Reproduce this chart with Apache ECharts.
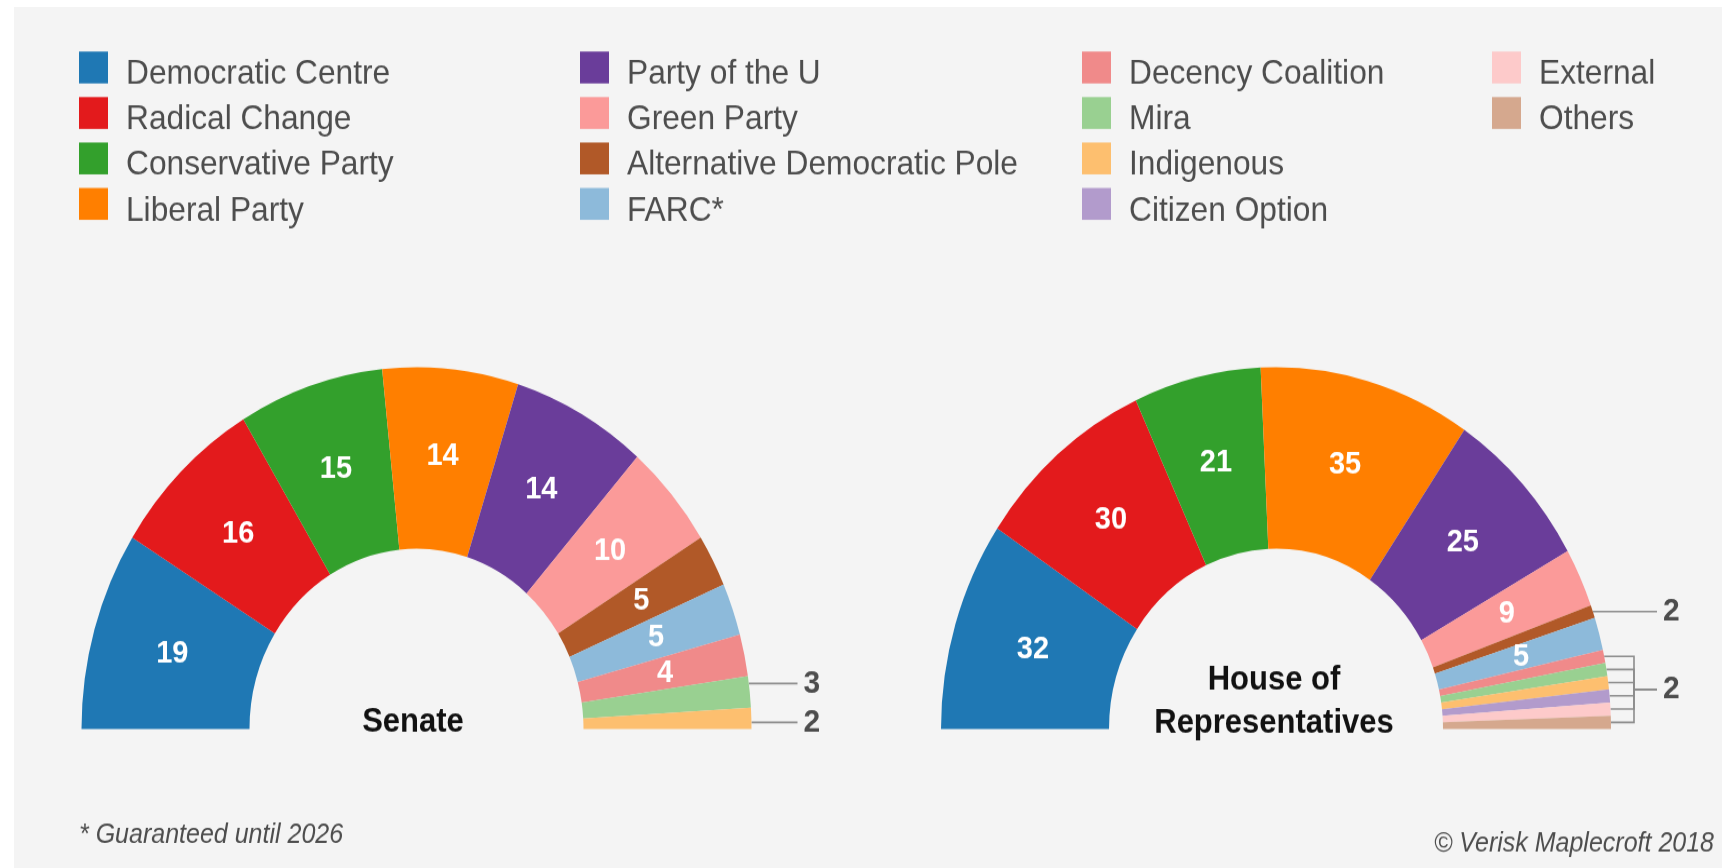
<!DOCTYPE html>
<html>
<head>
<meta charset="utf-8">
<script src="https://cdn.jsdelivr.net/npm/echarts@6/dist/echarts.min.js"></script>
<style>
  html, body { margin: 0; padding: 0; background: #fff; width: 1722px; height: 868px; overflow: hidden; }
  /* the original picture is stretched a little vertically, so the chart is too */
  #chart { position: absolute; left: 14px; top: 7px; width: 1708px; height: 797px; transform: scaleY(1.08); transform-origin: 0 0; }
</style>
</head>
<body>
<div id="chart"></div>
<script>
const parties = ['Democratic Centre', 'Radical Change', 'Conservative Party', 'Liberal Party',
  'Party of the U', 'Green Party', 'Alternative Democratic Pole', 'FARC*',
  'Decency Coalition', 'Mira', 'Indigenous', 'Citizen Option', 'External', 'Others'];
const partyColors = ['#1f78b4', '#e31a1c', '#33a02c', '#ff7f00',
  '#6a3d9a', '#fb9a99', '#b15928', '#8dbada',
  '#f08a8a', '#99d091', '#fdbf6f', '#b29bcc', '#fdcaca', '#d5a88e'];

const senateParties = ['Democratic Centre', 'Radical Change', 'Conservative Party', 'Liberal Party',
  'Party of the U', 'Green Party', 'Alternative Democratic Pole', 'FARC*', 'Decency Coalition', 'Mira', 'Indigenous'];
const senateSeats = [19, 16, 15, 14, 14, 10, 5, 5, 4, 3, 2];

const houseParties = ['Democratic Centre', 'Radical Change', 'Conservative Party', 'Liberal Party',
  'Party of the U', 'Green Party', 'Alternative Democratic Pole', 'FARC*', 'Decency Coalition', 'Mira',
  'Indigenous', 'Citizen Option', 'External', 'Others'];
const houseSeats = [32, 30, 21, 35, 25, 9, 2, 5, 2, 2, 2, 2, 2, 2];

// slices labelled outside the ring
const senateOutside = ['Mira', 'Indigenous'];
const houseOutside = ['Alternative Democratic Pole'];
const houseBracket = ['Decency Coalition', 'Mira', 'Indigenous', 'Citizen Option', 'External', 'Others'];

const legendColumns = [
  ['Democratic Centre', 'Radical Change', 'Conservative Party', 'Liberal Party'],
  ['Party of the U', 'Green Party', 'Alternative Democratic Pole', 'FARC*'],
  ['Decency Coalition', 'Mira', 'Indigenous', 'Citizen Option'],
  ['External', 'Others']
];

const FONT = 'Liberation Sans, Arial, Helvetica, sans-serif';
const GREY = '#4d4d4d';
const R_IN = 167, R_OUT = 335;
const SENATE_CENTER = [402.5, 668.5];
const HOUSE_CENTER = [1262, 668.5];
const legendLeft = [65, 566, 1068, 1478];
const legendTop = 33.5, legendRow = 42.1;

// point on the outer arc at the middle of slice i
function edgePoint(values, i, center) {
  const total = values.reduce((a, b) => a + b, 0);
  let before = 0;
  for (let k = 0; k < i; k++) before += values[k];
  const a = Math.PI * (1 - (before + values[i] / 2) / total);
  return [center[0] + R_OUT * Math.cos(a), center[1] - R_OUT * Math.sin(a)];
}

// keep outside labels from sitting on each other
function spread(ys, gap) {
  const out = ys.slice();
  for (let i = 1; i < out.length; i++) {
    if (out[i] - out[i - 1] < gap) out[i] = out[i - 1] + gap;
  }
  const shift = ys.reduce((a, b) => a + b, 0) / ys.length - out.reduce((a, b) => a + b, 0) / out.length;
  return out.map(y => y + shift - 2);
}

function makeLayout(names, values, center, outside, bracket) {
  const lineEnd = center[0] + R_OUT + 46;
  const labelX = center[0] + R_OUT + 52;
  const bracketX = center[0] + R_OUT + 23;

  const outIdx = outside.map(n => names.indexOf(n));
  const outYs = outIdx.length > 1
    ? spread(outIdx.map(i => edgePoint(values, i, center)[1]), 36)
    : outIdx.map(i => edgePoint(values, i, center)[1]);

  const brPts = bracket.map(n => edgePoint(values, names.indexOf(n), center));
  const brMid = brPts.reduce((a, p) => a + p[1], 0) / (brPts.length || 1);

  return function (p) {
    const name = names[p.dataIndex];
    const o = outside.indexOf(name);
    if (o >= 0) {
      const y = outYs[o];
      const dy = center[1] - y;
      const ex = center[0] + Math.sqrt(R_OUT * R_OUT - dy * dy);
      return {
        x: labelX, y: y, align: 'left', verticalAlign: 'middle',
        labelLinePoints: [[ex, y], [lineEnd, y]]
      };
    }
    const b = bracket.indexOf(name);
    if (b >= 0) {
      const pt = brPts[b];
      return {
        x: labelX, y: brMid, align: 'left', verticalAlign: 'middle',
        labelLinePoints: [pt, [bracketX, pt[1]], [bracketX, brMid], [lineEnd, brMid]]
      };
    }
    return {};
  };
}

function buildData(names, values, outside) {
  return names.map((n, i) => {
    const out = outside.includes(n);
    return {
      name: n,
      value: values[i],
      itemStyle: { color: partyColors[parties.indexOf(n)] },
      label: out ? { position: 'outside', color: GREY, fontSize: 30 } : { position: 'inside' },
      labelLine: { show: out }
    };
  });
}

function pieSeries(name, names, values, center, outside, bracket, bracketTextAt) {
  return {
    type: 'pie',
    name: name,
    center: center,
    radius: [R_IN, R_OUT],
    startAngle: 180,
    endAngle: 0,
    clockwise: true,
    silent: true,
    label: {
      show: true,
      color: '#fff',
      fontSize: 29,
      fontWeight: 'bold',
      fontFamily: FONT,
      formatter: function (p) {
        const b = bracket.indexOf(p.name);
        if (b >= 0 && b !== bracketTextAt) return '';
        return String(p.value);
      }
    },
    labelLine: { show: false, length: 4, length2: 10, lineStyle: { color: '#8c8c8c', width: 1.6 } },
    labelLayout: makeLayout(names, values, center, outside, bracket),
    data: buildData(names, values, outside.concat(bracket))
  };
}

// one legend block per entry so every row sits exactly on its line
const legends = [];
legendColumns.forEach((col, c) => {
  col.forEach((name, r) => {
    legends.push({
      data: [name],
      left: legendLeft[c],
      top: legendTop + r * legendRow,
      icon: 'rect',
      itemWidth: 29,
      itemHeight: 29.5,
      padding: 0,
      selectedMode: false,
      formatter: '{t|{name}}',
      textStyle: {
        rich: {
          // top padding pushes the name a little below the box centre
          t: { fontSize: 31.7, color: GREY, fontFamily: FONT, lineHeight: 20, padding: [13, 0, 0, 13] }
        }
      }
    });
  });
});

const chart = echarts.init(document.getElementById('chart'));

const options = {
  backgroundColor: '#f4f4f4',
  animation: false,
  textStyle: { fontFamily: FONT },
  legend: legends,
  series: [
    pieSeries('Senate', senateParties, senateSeats, SENATE_CENTER, senateOutside, [], -1),
    pieSeries('House of Representatives', houseParties, houseSeats, HOUSE_CENTER, houseOutside, houseBracket, 3)
  ],
  graphic: [
    {
      type: 'text', x: 399, y: 662,
      style: { text: 'Senate', align: 'center', verticalAlign: 'middle', fontSize: 31, fontWeight: 'bold', fontFamily: FONT, fill: '#111' }
    },
    {
      type: 'text', x: 1260, y: 623,
      style: { text: 'House of', align: 'center', verticalAlign: 'middle', fontSize: 31, fontWeight: 'bold', fontFamily: FONT, fill: '#111' }
    },
    {
      type: 'text', x: 1260, y: 663,
      style: { text: 'Representatives', align: 'center', verticalAlign: 'middle', fontSize: 31, fontWeight: 'bold', fontFamily: FONT, fill: '#111' }
    },
    {
      type: 'text', x: 65, y: 767,
      style: { text: '* Guaranteed until 2026', align: 'left', verticalAlign: 'middle', fontSize: 25, fontStyle: 'italic', fontFamily: FONT, fill: GREY }
    },
    {
      type: 'text', x: 1700, y: 775.5,
      style: { text: '\u00a9 Verisk Maplecroft 2018', align: 'right', verticalAlign: 'middle', fontSize: 25, fontStyle: 'italic', fontFamily: FONT, fill: GREY }
    }
  ]
};

chart.setOption(options);
</script>
</body>
</html>
